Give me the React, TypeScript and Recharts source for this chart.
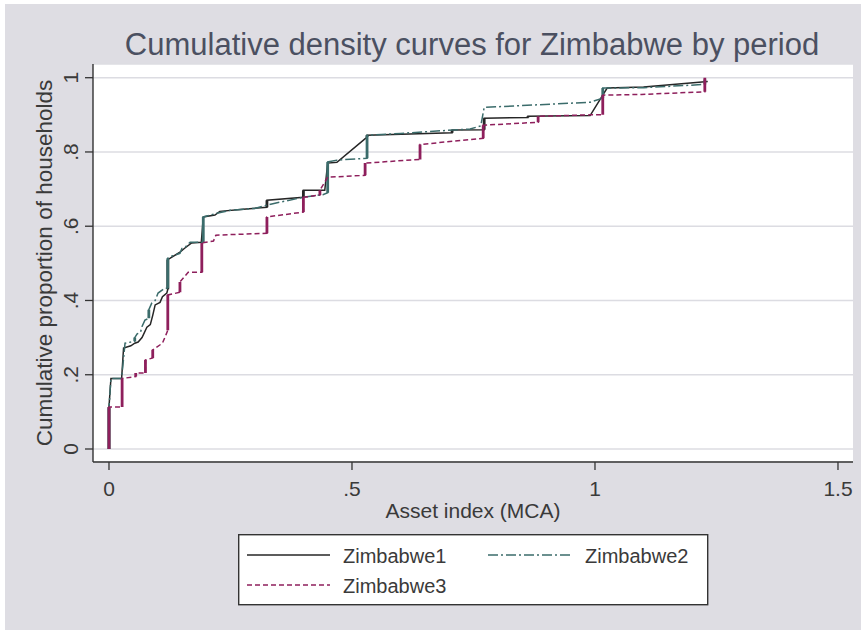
import React from 'react';
import { LineChart, Line, XAxis, YAxis, CartesianGrid } from 'recharts';

// Zimbabwe1 (period 1)
const z1X = [0, 0, 0.004, 0.026, 0.03, 0.045, 0.053, 0.06, 0.068, 0.078, 0.085, 0.09, 0.095, 0.105, 0.11, 0.119, 0.121, 0.121, 0.146, 0.155, 0.17, 0.19, 0.194, 0.218, 0.228, 0.276, 0.325, 0.325, 0.4, 0.4, 0.444, 0.45, 0.469, 0.531, 0.531, 0.706, 0.706, 0.772, 0.772, 0.862, 0.862, 0.99, 1.025, 1.1, 1.232];
const z1Y = [0, 0.113, 0.19, 0.19, 0.272, 0.278, 0.285, 0.288, 0.3, 0.328, 0.335, 0.36, 0.388, 0.395, 0.41, 0.42, 0.43, 0.51, 0.53, 0.54, 0.555, 0.557, 0.625, 0.63, 0.64, 0.646, 0.651, 0.67, 0.678, 0.697, 0.697, 0.77, 0.772, 0.84, 0.845, 0.852, 0.859, 0.86, 0.891, 0.893, 0.896, 0.898, 0.972, 0.975, 0.99];

// Zimbabwe2 (period 2)
const z2X = [0, 0, 0.004, 0.026, 0.033, 0.053, 0.053, 0.058, 0.065, 0.068, 0.074, 0.082, 0.082, 0.088, 0.095, 0.101, 0.115, 0.121, 0.121, 0.13, 0.146, 0.15, 0.158, 0.167, 0.194, 0.194, 0.222, 0.25, 0.3, 0.335, 0.4, 0.44, 0.45, 0.45, 0.469, 0.531, 0.531, 0.6, 0.743, 0.765, 0.772, 0.85, 0.99, 1.016, 1.016, 1.1, 1.226, 1.226];
const z2Y = [0, 0.11, 0.19, 0.19, 0.285, 0.29, 0.3, 0.31, 0.315, 0.33, 0.347, 0.352, 0.375, 0.393, 0.4, 0.42, 0.433, 0.433, 0.514, 0.52, 0.527, 0.54, 0.545, 0.557, 0.557, 0.625, 0.635, 0.643, 0.648, 0.66, 0.678, 0.685, 0.69, 0.773, 0.778, 0.783, 0.845, 0.85, 0.862, 0.87, 0.92, 0.925, 0.934, 0.945, 0.972, 0.973, 0.982, 0.995];

// Zimbabwe3 (period 3)
const z3X = [0, 0, 0.027, 0.027, 0.055, 0.055, 0.075, 0.075, 0.09, 0.09, 0.11, 0.118, 0.121, 0.121, 0.146, 0.146, 0.163, 0.191, 0.191, 0.215, 0.22, 0.325, 0.325, 0.4, 0.4, 0.434, 0.434, 0.45, 0.527, 0.527, 0.64, 0.64, 0.77, 0.77, 0.883, 0.883, 0.99, 1.016, 1.016, 1.096, 1.226, 1.226];
const z3Y = [0, 0.113, 0.113, 0.19, 0.195, 0.205, 0.205, 0.24, 0.245, 0.267, 0.285, 0.31, 0.32, 0.415, 0.422, 0.45, 0.476, 0.476, 0.555, 0.56, 0.576, 0.581, 0.625, 0.638, 0.678, 0.684, 0.697, 0.732, 0.737, 0.77, 0.78, 0.82, 0.837, 0.872, 0.88, 0.896, 0.9, 0.9, 0.953, 0.955, 0.962, 1.0];

const xTicks = [0, 0.5, 1, 1.5];
const xTickLabels = ['0', '.5', '1', '1.5'];
const yTicks = [0, 0.2, 0.4, 0.6, 0.8, 1];
const yTickLabels = ['0', '.2', '.4', '.6', '.8', '1'];

const seriesNames = ['Zimbabwe1', 'Zimbabwe2', 'Zimbabwe3'];
const seriesColors = ['#262626', '#3b6c6b', '#8e1f5c'];
const seriesDash = ['', '10 3 2 3', '5 3'];

const FONT = '"Liberation Sans", Arial, Helvetica, sans-serif';
const TEXT = '#3a3a3a';

const toPts = (xs: number[], ys: number[]) => xs.map((x, i) => ({ x, y: ys[i] }));
const verticals = (xs: number[], ys: number[]) => {
  const out: { x: number; y: number | null }[] = [];
  for (let i = 0; i < xs.length - 1; i++) {
    if (xs[i] === xs[i + 1]) {
      out.push({ x: xs[i], y: ys[i] }, { x: xs[i + 1], y: ys[i + 1] }, { x: xs[i + 1], y: null });
    }
  }
  return out;
};

const d1 = toPts(z1X, z1Y);
const d2 = toPts(z2X, z2Y);
const d3 = toPts(z3X, z3Y);
const v1 = verticals(z1X, z1Y);
const v2 = verticals(z2X, z2Y);
const v3 = verticals(z3X, z3Y);

const XTick = (props: any) => {
  const { x, y, payload } = props;
  const i = xTicks.indexOf(payload.value);
  return (
    <text x={x} y={y + 24} textAnchor="middle" fontSize={21} fontFamily={FONT} fill={TEXT}>
      {xTickLabels[i]}
    </text>
  );
};

const YTick = (props: any) => {
  const { x, y, payload } = props;
  const i = yTicks.indexOf(payload.value);
  const bx = x - 5;
  return (
    <text x={bx} y={y} transform={`rotate(-90 ${bx} ${y})`} textAnchor="middle" fontSize={21} fontFamily={FONT} fill={TEXT}>
      {yTickLabels[i]}
    </text>
  );
};

export default function App() {
  return (
    <div style={{ position: 'absolute', left: 0, top: 0, width: 861, height: 630, background: '#fff', overflow: 'hidden' }}>
      <div style={{ position: 'absolute', left: 5, top: 4, right: 0, bottom: 0, background: '#dedde3' }} />
      <div style={{ position: 'absolute', left: 0, top: 0 }}>
        <LineChart width={861} height={630} margin={{ top: 64, right: 8, bottom: 0, left: 0 }}>
          <CartesianGrid vertical={false} stroke="#dcdce2" strokeWidth={1.5} fill="#ffffff" />
          <XAxis
            dataKey="x"
            type="number"
            domain={[-0.0329, 1.5309]}
            ticks={xTicks}
            interval={0}
            allowDataOverflow
            height={168}
            tickSize={8}
            tickLine={{ stroke: '#333', strokeWidth: 1.3 }}
            axisLine={{ stroke: '#333', strokeWidth: 1.4 }}
            tick={<XTick />}
          />
          <YAxis
            type="number"
            domain={[-0.035, 1.0369]}
            ticks={yTicks}
            interval={0}
            allowDataOverflow
            width={93}
            tickSize={8}
            tickLine={{ stroke: '#333', strokeWidth: 1.3 }}
            axisLine={{ stroke: '#333', strokeWidth: 1.4 }}
            tick={<YTick />}
          />
          <Line data={d1} dataKey="y" name={seriesNames[0]} type="linear" stroke={seriesColors[0]} strokeWidth={1.5} dot={false} isAnimationActive={false} />
          <Line data={v1} dataKey="y" legendType="none" type="linear" stroke={seriesColors[0]} strokeWidth={2.8} dot={false} isAnimationActive={false} />
          <Line data={d2} dataKey="y" name={seriesNames[1]} type="linear" stroke={seriesColors[1]} strokeWidth={1.5} strokeDasharray={seriesDash[1]} dot={false} isAnimationActive={false} />
          <Line data={v2} dataKey="y" legendType="none" type="linear" stroke={seriesColors[1]} strokeWidth={2.8} dot={false} isAnimationActive={false} />
          <Line data={d3} dataKey="y" name={seriesNames[2]} type="linear" stroke={seriesColors[2]} strokeWidth={1.5} strokeDasharray={seriesDash[2]} dot={false} isAnimationActive={false} />
          <Line data={v3} dataKey="y" legendType="none" type="linear" stroke={seriesColors[2]} strokeWidth={2.8} dot={false} isAnimationActive={false} />
        </LineChart>
      </div>
      <svg width={861} height={630} style={{ position: 'absolute', left: 0, top: 0, pointerEvents: 'none' }}>
        <text x={472} y={55} textAnchor="middle" fontSize={31} fontFamily={FONT} fill="#4b5061">
          Cumulative density curves for Zimbabwe by period
        </text>
        <text x={473} y={517.5} textAnchor="middle" fontSize={21} fontFamily={FONT} fill={TEXT}>
          Asset index (MCA)
        </text>
        <text x={52} y={263} transform="rotate(-90 52 263)" textAnchor="middle" fontSize={22.5} fontFamily={FONT} fill={TEXT}>
          Cumulative proportion of households
        </text>
        <g transform="translate(238 534)">
          <rect x={0.7} y={0.7} width={469} height={70} fill="#fff" stroke="#333" strokeWidth={1.4} />
          <line x1={9} x2={92} y1={21} y2={21} stroke={seriesColors[0]} strokeWidth={1.4} />
          <text x={105} y={28.5} fontSize={20} fontFamily={FONT} fill={TEXT}>{seriesNames[0]}</text>
          <line x1={250} x2={333} y1={21} y2={21} stroke={seriesColors[1]} strokeWidth={1.4} strokeDasharray={seriesDash[1]} />
          <text x={347} y={28.5} fontSize={20} fontFamily={FONT} fill={TEXT}>{seriesNames[1]}</text>
          <line x1={9} x2={92} y1={51} y2={51} stroke={seriesColors[2]} strokeWidth={1.4} strokeDasharray={seriesDash[2]} />
          <text x={105} y={58.5} fontSize={20} fontFamily={FONT} fill={TEXT}>{seriesNames[2]}</text>
        </g>
      </svg>
    </div>
  );
}
